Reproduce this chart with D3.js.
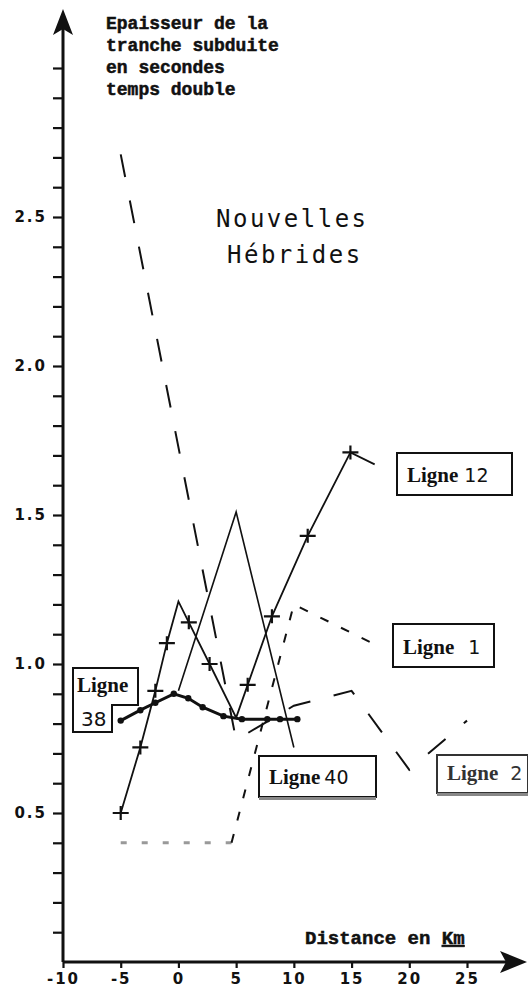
<!DOCTYPE html>
<html>
<head>
<meta charset="utf-8">
<script src="https://cdn.jsdelivr.net/npm/d3@7"></script>
<style>
  body { margin: 0; background: #fff; }
  svg { display: block; }
</style>
</head>
<body>
<div id="vis"></div>
<script>
// Data (distance in km, thickness in s two-way time)
const xTicks = [-10, -5, 0, 5, 10, 15, 20, 25];
const yTicks = d3.range(1, 31).map(i => i / 10);
const yLabels = [0.5, 1.0, 1.5, 2.0, 2.5];

const ligne12X = [-5, -3.3, -2, -1, 0, 0.9, 2.7, 5, 6, 8.1, 11.2, 14.9, 17];
const ligne12V = [0.5, 0.72, 0.91, 1.07, 1.21, 1.14, 1.0, 0.82, 0.93, 1.16, 1.43, 1.71, 1.67];
const ligne12Marked = [1, 1, 1, 1, 0, 1, 1, 0, 1, 1, 1, 1, 0];

const ligne38X = [-5, -3.3, -2, -0.4, 0.85, 2.1, 3.9, 5.5, 7.7, 8.8, 10.3];
const ligne38V = [0.81, 0.845, 0.87, 0.9, 0.885, 0.855, 0.825, 0.815, 0.815, 0.815, 0.815];

const ligne40X = [0, 5, 10];
const ligne40V = [0.91, 1.51, 0.72];

const ligne1X = [-5, 4.6, 10, 17.3];
const ligne1V = [0.4, 0.4, 1.2, 1.06];

const ligne2X = [-5, 5, 10, 15, 20, 25];
const ligne2V = [2.71, 0.745, 0.86, 0.91, 0.645, 0.81];

const width = 528, height = 993;

const svg = d3.select("#vis").append("svg")
  .attr("width", width)
  .attr("height", height);

const x = d3.scaleLinear().domain([-10, 25]).range([63, 467]);
const y = d3.scaleLinear().domain([0, 3]).range([962, 68]);

const ink = "#111";
const serif = "'Liberation Mono', 'DejaVu Sans Mono', monospace";
const numFont = "'DejaVu Sans', sans-serif";

const toPts = (xs, vs) => xs.map((d, i) => ({ x: d, v: vs[i], i }));
const line = d3.line().x(d => x(d.x)).y(d => y(d.v));

// Y axis
const yAxis = svg.append("g")
  .attr("transform", `translate(${x(-10)},0)`)
  .call(d3.axisLeft(y).tickValues(yTicks).tickSize(10).tickPadding(6)
    .tickFormat(d => yLabels.some(l => Math.abs(l - d) < 1e-6) ? d3.format(".1f")(d) : ""));
yAxis.select(".domain").remove();
yAxis.selectAll("line").attr("stroke", ink).attr("stroke-width", 2.2);
yAxis.selectAll("text")
  .attr("fill", ink)
  .attr("font-family", numFont)
  .attr("font-weight", "bold")
  .attr("font-size", 15)
  .attr("letter-spacing", 2);

svg.append("line")
  .attr("x1", x(-10)).attr("x2", x(-10))
  .attr("y1", y(0)).attr("y2", 20)
  .attr("stroke", ink).attr("stroke-width", 3);
svg.append("path")
  .attr("d", `M${x(-10)},9 L${x(-10) - 10},35 L${x(-10)},29 L${x(-10) + 10},35 Z`)
  .attr("fill", ink);

// X axis
const xAxis = svg.append("g")
  .attr("transform", `translate(0,${y(0)})`)
  .call(d3.axisBottom(x).tickValues(xTicks).tickSize(6).tickPadding(5)
    .tickFormat(d => d < 0 ? "-" + Math.abs(d) : d));
xAxis.select(".domain").remove();
xAxis.selectAll("line").attr("stroke", ink).attr("stroke-width", 2.2);
xAxis.selectAll("text")
  .attr("fill", ink)
  .attr("font-family", numFont)
  .attr("font-weight", "bold")
  .attr("font-size", 15)
  .attr("letter-spacing", 2);

svg.append("line")
  .attr("x1", x(-10)).attr("x2", 512)
  .attr("y1", y(0)).attr("y2", y(0))
  .attr("stroke", ink).attr("stroke-width", 3);
svg.append("path")
  .attr("d", `M527,${y(0)} L500,${y(0) - 11} L506,${y(0)} L500,${y(0) + 11} Z`)
  .attr("fill", ink);

// Axis titles
const yTitle = ["Epaisseur de la", "tranche subduite", "en secondes", "temps double"];
svg.append("g").selectAll("text")
  .data(yTitle)
  .join("text")
  .attr("x", 106)
  .attr("y", (d, i) => 29 + i * 22)
  .attr("font-family", serif)
  .attr("font-weight", "bold")
  .attr("font-size", 18)
  .attr("fill", ink)
  .attr("stroke", ink)
  .attr("stroke-width", 0.5)
  .text(d => d);

const xTitle = svg.append("text")
  .attr("x", 305)
  .attr("y", 944)
  .attr("font-family", serif)
  .attr("font-weight", "bold")
  .attr("font-size", 19)
  .attr("fill", ink)
  .attr("stroke", ink)
  .attr("stroke-width", 0.5);
xTitle.append("tspan").text("Distance en ");
xTitle.append("tspan").attr("text-decoration", "underline").text("Km");

// Region name
svg.append("text")
  .attr("x", 216).attr("y", 227)
  .attr("font-family", "'DejaVu Sans Mono', monospace")
  .attr("font-size", 24)
  .attr("letter-spacing", 2.5)
  .attr("fill", ink)
  .text("Nouvelles");
svg.append("text")
  .attr("x", 227).attr("y", 263)
  .attr("font-family", "'DejaVu Sans Mono', monospace")
  .attr("font-size", 24)
  .attr("letter-spacing", 2.5)
  .attr("fill", ink)
  .text("Hébrides");

// Ligne 2 : long dashes
svg.append("path")
  .attr("d", line(toPts(ligne2X, ligne2V)))
  .attr("fill", "none")
  .attr("stroke", ink)
  .attr("stroke-width", 2)
  .attr("stroke-dasharray", "23,24");

// Ligne 1 : short dashes, first stretch faded grey
const l1 = toPts(ligne1X, ligne1V);
svg.append("path")
  .attr("d", line(l1.slice(0, 2)))
  .attr("fill", "none")
  .attr("stroke", "#999")
  .attr("stroke-width", 3)
  .attr("stroke-dasharray", "6,15");
svg.append("path")
  .attr("d", line(l1.slice(1)))
  .attr("fill", "none")
  .attr("stroke", ink)
  .attr("stroke-width", 2)
  .attr("stroke-dasharray", "9,14");

// Ligne 40 : thin solid
svg.append("path")
  .attr("d", line(toPts(ligne40X, ligne40V)))
  .attr("fill", "none")
  .attr("stroke", ink)
  .attr("stroke-width", 1.6);

// Ligne 12 : solid with crosses
const l12 = toPts(ligne12X, ligne12V);
svg.append("path")
  .attr("d", line(l12))
  .attr("fill", "none")
  .attr("stroke", ink)
  .attr("stroke-width", 1.8);
svg.append("g").selectAll("path")
  .data(l12.filter(d => ligne12Marked[d.i]))
  .join("path")
  .attr("d", d => `M${x(d.x) - 8},${y(d.v)} h16 M${x(d.x)},${y(d.v) - 7} v14`)
  .attr("stroke", ink)
  .attr("stroke-width", 2.2);

// Ligne 38 : thick with dots
const l38 = toPts(ligne38X, ligne38V);
svg.append("path")
  .attr("d", line(l38))
  .attr("fill", "none")
  .attr("stroke", ink)
  .attr("stroke-width", 3);
svg.append("g").selectAll("circle")
  .data(l38)
  .join("circle")
  .attr("cx", d => x(d.x))
  .attr("cy", d => y(d.v))
  .attr("r", 3.2)
  .attr("fill", ink);

// Labels
function boxLabel(x0, y0, w, h, word, num, opts = {}) {
  const g = svg.append("g");
  g.append("rect")
    .attr("x", x0).attr("y", y0).attr("width", w).attr("height", h)
    .attr("fill", "#fff").attr("stroke", opts.color || ink).attr("stroke-width", 2);
  if (opts.shadow) {
    g.append("line")
      .attr("x1", x0).attr("x2", x0 + w)
      .attr("y1", y0 + h + 1.5).attr("y2", y0 + h + 1.5)
      .attr("stroke", "#888").attr("stroke-width", 3);
  }
  const t = g.append("text")
    .attr("x", x0 + 10).attr("y", y0 + h - 13)
    .attr("fill", opts.color || ink);
  t.append("tspan")
    .attr("font-family", "'Liberation Serif', serif")
    .attr("font-weight", "bold")
    .attr("font-size", 21)
    .text(word);
  t.append("tspan")
    .attr("dx", opts.gap || 6)
    .attr("font-family", numFont)
    .attr("font-size", 19)
    .text(num);
}

boxLabel(397, 453, 115, 42, "Ligne", "12");
boxLabel(393, 624, 101, 43, "Ligne", "1", { gap: 14 });
boxLabel(259, 756, 117, 41, "Ligne", "40", { shadow: true, gap: 4 });
boxLabel(437, 755, 91, 38, "Ligne", "2", { shadow: true, gap: 12, color: "#333" });

// Ligne 38 : stepped box
svg.append("path")
  .attr("d", "M73,668 H138 V705 H112 V732 H73 Z")
  .attr("fill", "#fff")
  .attr("stroke", ink)
  .attr("stroke-width", 2);
svg.append("text")
  .attr("x", 77).attr("y", 692)
  .attr("font-family", "'Liberation Serif', serif")
  .attr("font-weight", "bold")
  .attr("font-size", 21)
  .attr("fill", ink)
  .text("Ligne");
svg.append("text")
  .attr("x", 81).attr("y", 726)
  .attr("font-family", numFont)
  .attr("font-size", 20)
  .attr("fill", ink)
  .text("38");
</script>
</body>
</html>
